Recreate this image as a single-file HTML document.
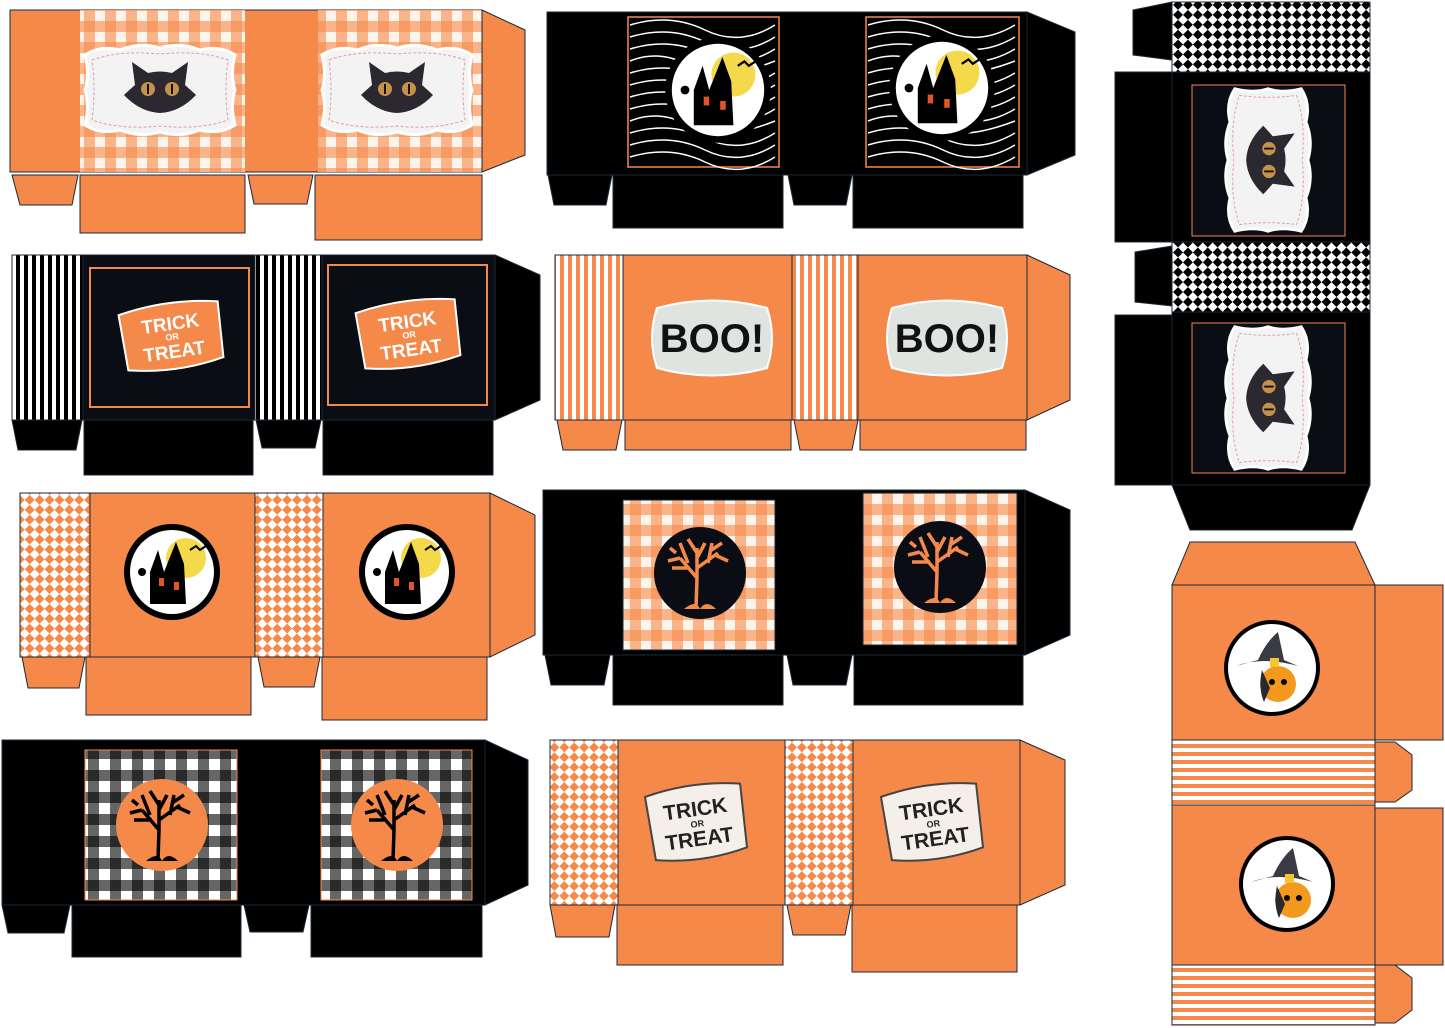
<!DOCTYPE html>
<html><head><meta charset="utf-8"><style>html,body{margin:0;padding:0;background:#fff}svg{display:block}</style></head><body>
<svg width="1445" height="1028" viewBox="0 0 1445 1028" xmlns="http://www.w3.org/2000/svg" font-family="Liberation Sans, sans-serif">
<defs>
<pattern id="ging" width="21" height="21" patternUnits="userSpaceOnUse">
<rect width="21" height="21" fill="#fff4ec"/><rect x="0" width="11" height="21" fill="#f5894a" opacity=".6"/><rect y="0" width="21" height="11" fill="#f5894a" opacity=".6"/></pattern>
<pattern id="gingbw" width="22" height="22" patternUnits="userSpaceOnUse">
<rect width="22" height="22" fill="#fff"/><rect width="11" height="22" fill="#000" opacity=".6"/><rect width="22" height="11" fill="#000" opacity=".6"/></pattern>
<pattern id="vsbw" width="8" height="8" patternUnits="userSpaceOnUse"><rect width="8" height="8" fill="#fff"/><rect width="4" height="8" fill="#000"/></pattern>
<pattern id="vso" width="8" height="8" patternUnits="userSpaceOnUse"><rect width="8" height="8" fill="#fff"/><rect width="4" height="8" fill="#f5894a"/></pattern>
<pattern id="hso" width="8" height="8" patternUnits="userSpaceOnUse"><rect width="8" height="8" fill="#fff"/><rect width="8" height="4" fill="#f5894a"/></pattern>
<pattern id="dia" width="14" height="14" patternUnits="userSpaceOnUse" patternTransform="rotate(45)"><rect width="14" height="14" fill="#fff"/><rect width="7" height="7" fill="#f5894a"/><rect x="7" y="7" width="7" height="7" fill="#f5894a"/></pattern>
<pattern id="harl" width="14" height="14" patternUnits="userSpaceOnUse" patternTransform="rotate(45)"><rect width="14" height="14" fill="#fff"/><rect width="7" height="7" fill="#000"/><rect x="7" y="7" width="7" height="7" fill="#000"/></pattern>
<g id="cat">
<path d="M-75,-35 Q-60,-45 -40,-40 Q-20,-48 0,-42 Q20,-48 40,-40 Q60,-45 75,-35 Q70,-15 75,0 Q70,15 75,35 Q60,45 40,40 Q20,48 0,42 Q-20,48 -40,40 Q-60,45 -75,35 Q-70,15 -75,0 Q-70,-15 -75,-35Z" fill="#f3f3f3" stroke="#fff" stroke-width="3"/>
<path d="M-68,-30 Q-40,-40 0,-36 Q40,-40 68,-30 Q64,0 68,30 Q40,40 0,36 Q-40,40 -68,30 Q-64,0 -68,-30Z" fill="none" stroke="#d9a0a8" stroke-dasharray="3 2"/>
<path d="M-25,-5 L-28,-28 L-12,-17 Q0,-20 12,-17 L28,-28 L25,-5 Q34,3 36,5 Q20,22 0,23 Q-20,22 -36,5 Q-34,3 -25,-5Z" fill="#2b2830"/>
<circle cx="-12" cy="-1" r="7" fill="#c8914a"/><circle cx="12" cy="-1" r="7" fill="#c8914a"/>
<rect x="-13" y="-6" width="2" height="10" fill="#111"/><rect x="11" y="-6" width="2" height="10" fill="#111"/></g>
<g id="house">
<circle r="48" fill="#000"/><circle r="42" fill="#fff"/><circle cx="14" cy="-14" r="20" fill="#f4d94a"/>
<path d="M-22,32 L-22,0 L-14,-22 L-8,0 L-4,-10 L4,-30 L12,-8 L14,32Z" fill="#000"/>
<rect x="-13" y="6" width="5" height="8" fill="#e2542a"/><rect x="2" y="10" width="5" height="8" fill="#e2542a"/>
<circle cx="-30" cy="0" r="4" fill="#000"/><path d="M18,-22 l6,-4 l4,4 l6,-4" stroke="#000" stroke-width="2" fill="none"/></g>
<g id="tree">
<path d="M-4,35 L-3,5 L-20,-15 M-3,5 L-3,-25 M-3,-5 L18,-20 M-10,-5 L-28,-5 M8,-10 L12,-30 M-12,-10 L-20,-30 M-3,-15 L5,-30 M15,-18 L28,-12 M-24,-20 L-30,-25 M-3,-20 L-12,-34 M10,-22 L22,-30 M-20,-15 L-32,-12" stroke="currentColor" stroke-width="3.5" fill="none"/>
<path d="M-16,36 Q-4,26 0,36 Q6,26 16,36Z" fill="currentColor"/></g>
<g id="witch">
<circle r="46" fill="#fff" stroke="#000" stroke-width="4"/>
<path d="M-36,-2 Q-10,-12 26,-2 L12,-8 L6,-36 Q-6,-26 -14,-8Z" fill="#3a3a44"/>
<circle cx="6" cy="16" r="18" fill="#f39a1e"/><circle cx="0" cy="14" r="3" fill="#000"/><circle cx="12" cy="14" r="3" fill="#000"/>
<path d="M-10,2 Q-14,20 -8,34 L-2,20Z" fill="#2b2830"/>
<rect x="-2" y="-10" width="9" height="9" fill="#f4c431"/></g>
</defs>
<g stroke="#1b2838" stroke-width="1">
<rect x="10" y="10" width="472" height="162" fill="#f5894a"/>
<rect x="80" y="10" width="165" height="162" fill="url(#ging)" stroke="none"/>
<rect x="318" y="10" width="164" height="162" fill="url(#ging)" stroke="none"/>
<path d="M482,10 L525,30 L525,155 L482,172Z" fill="#f5894a"/>
<path d="M12,175 L78,175 L72,205 L20,205Z" fill="#f5894a"/><rect x="80" y="175" width="165" height="58" fill="#f5894a"/>
<path d="M248,175 L313,175 L307,204 L254,204Z" fill="#f5894a"/><rect x="315" y="175" width="167" height="65" fill="#f5894a"/>
<rect x="547" y="12" width="480" height="163" fill="#000"/>
<path d="M1027,12 L1075,32 L1075,155 L1027,175Z" fill="#000"/>
<path d="M548,175 L612,175 L606,205 L554,205Z" fill="#000"/><rect x="613" y="175" width="170" height="53" fill="#000"/>
<path d="M788,175 L852,175 L846,205 L794,205Z" fill="#000"/><rect x="853" y="175" width="170" height="53" fill="#000"/>
<rect x="12" y="255" width="483" height="165" fill="#0a0d14"/>
<rect x="12" y="255" width="71" height="165" fill="url(#vsbw)"/><rect x="255" y="255" width="67" height="165" fill="url(#vsbw)"/>
<path d="M495,255 L540,275 L540,400 L495,420Z" fill="#000"/>
<path d="M12,420 L82,420 L76,450 L18,450Z" fill="#000"/><rect x="84" y="420" width="169" height="55" fill="#000"/>
<path d="M256,420 L321,420 L315,448 L262,448Z" fill="#000"/><rect x="323" y="420" width="170" height="55" fill="#000"/>
<rect x="555" y="255" width="472" height="165" fill="#f5894a"/>
<rect x="555" y="255" width="68" height="165" fill="url(#vso)"/><rect x="792" y="255" width="66" height="165" fill="url(#vso)"/>
<path d="M1027,255 L1070,275 L1070,400 L1027,420Z" fill="#f5894a"/>
<path d="M557,420 L622,420 L616,450 L563,450Z" fill="#f5894a"/><rect x="625" y="420" width="166" height="30" fill="#f5894a"/>
<path d="M794,420 L858,420 L852,450 L800,450Z" fill="#f5894a"/><rect x="860" y="420" width="166" height="30" fill="#f5894a"/>
<rect x="20" y="493" width="470" height="164" fill="#f5894a"/>
<rect x="20" y="493" width="70" height="164" fill="url(#dia)"/><rect x="255" y="493" width="68" height="164" fill="url(#dia)"/>
<path d="M490,493 L535,515 L535,635 L490,657Z" fill="#f5894a"/>
<path d="M22,657 L85,657 L79,688 L28,688Z" fill="#f5894a"/><rect x="86" y="657" width="165" height="58" fill="#f5894a"/>
<path d="M258,657 L320,657 L314,687 L264,687Z" fill="#f5894a"/><rect x="322" y="657" width="165" height="63" fill="#f5894a"/>
<rect x="543" y="490" width="482" height="165" fill="#000"/>
<rect x="623" y="500" width="152" height="150" fill="url(#ging)"/><rect x="863" y="493" width="154" height="152" fill="url(#ging)"/>
<path d="M1025,490 L1070,510 L1070,635 L1025,655Z" fill="#000"/>
<path d="M545,655 L610,655 L604,685 L551,685Z" fill="#000"/><rect x="613" y="655" width="170" height="50" fill="#000"/>
<path d="M787,655 L852,655 L846,685 L793,685Z" fill="#000"/><rect x="854" y="655" width="169" height="50" fill="#000"/>
<rect x="2" y="740" width="483" height="165" fill="#000"/>
<rect x="85" y="750" width="152" height="150" fill="url(#gingbw)" stroke="#f5894a"/><rect x="321" y="750" width="151" height="150" fill="url(#gingbw)" stroke="#f5894a"/>
<path d="M485,740 L528,760 L528,885 L485,905Z" fill="#000"/>
<path d="M2,905 L70,905 L64,933 L8,933Z" fill="#000"/><rect x="72" y="905" width="169" height="52" fill="#000"/>
<path d="M244,905 L309,905 L303,932 L250,932Z" fill="#000"/><rect x="311" y="905" width="171" height="52" fill="#000"/>
<rect x="550" y="740" width="470" height="165" fill="#f5894a"/>
<rect x="550" y="740" width="68" height="165" fill="url(#dia)"/><rect x="785" y="740" width="68" height="165" fill="url(#dia)"/>
<path d="M1020,740 L1065,760 L1065,885 L1020,905Z" fill="#f5894a"/>
<path d="M550,905 L615,905 L609,937 L556,937Z" fill="#f5894a"/><rect x="617" y="905" width="166" height="60" fill="#f5894a"/>
<path d="M787,905 L851,905 L845,935 L793,935Z" fill="#f5894a"/><rect x="852" y="905" width="165" height="67" fill="#f5894a"/>
<rect x="1172" y="2" width="198" height="70" fill="url(#harl)"/>
<path d="M1133,10 L1172,2 L1172,60 L1133,55Z" fill="#000"/>
<rect x="1115" y="72" width="57" height="170" fill="#000"/>
<rect x="1172" y="72" width="198" height="170" fill="#000"/>
<rect x="1172" y="242" width="198" height="70" fill="url(#harl)"/>
<path d="M1135,252 L1172,246 L1172,306 L1135,302Z" fill="#000"/>
<rect x="1115" y="315" width="57" height="170" fill="#000"/>
<rect x="1172" y="312" width="198" height="173" fill="#000"/>
<path d="M1172,485 L1370,485 L1352,530 L1190,530Z" fill="#000"/>
<path d="M1190,542 L1355,542 L1375,585 L1172,585Z" fill="#f5894a"/>
<rect x="1172" y="585" width="203" height="155" fill="#f5894a"/>
<rect x="1375" y="585" width="68" height="155" fill="#f5894a"/>
<rect x="1172" y="740" width="203" height="65" fill="url(#hso)"/>
<path d="M1375,742 L1395,742 L1412,755 L1412,790 L1395,802 L1375,802Z" fill="#f5894a"/>
<rect x="1172" y="805" width="203" height="160" fill="#f5894a"/>
<rect x="1375" y="808" width="68" height="157" fill="#f5894a"/>
<rect x="1172" y="965" width="203" height="60" fill="url(#hso)"/>
<path d="M1375,965 L1395,965 L1412,978 L1412,1010 L1395,1023 L1375,1023Z" fill="#f5894a"/>
</g>
<use href="#cat" x="160" y="90"/><use href="#cat" x="397" y="90"/>
<g stroke="#fff" stroke-width="1.5" fill="none">
<rect x="628" y="17" width="151" height="150" fill="#000" stroke="#f5894a"/>
<rect x="866" y="17" width="153" height="150" fill="#000" stroke="#f5894a"/>
<path d="M630,25 q40,-12 75,5 t70,-5 M630,37 q40,-12 75,5 t70,-5 M630,49 q40,-12 75,5 t70,-5 M630,61 q30,-12 60,5 t85,-5 M630,73 q40,-12 75,5 t70,-5 M630,85 q40,-12 75,5 t70,-5 M630,97 q40,-12 75,5 t70,-5 M630,109 q40,-12 75,5 t70,-5 M630,121 q30,-12 60,5 t85,-5 M630,133 q40,-12 75,5 t70,-5 M630,145 q40,-12 75,5 t70,-5 M630,157 q40,-12 75,5 t70,-5"/>
<path d="M868,25 q40,-12 75,5 t72,-5 M868,37 q40,-12 75,5 t72,-5 M868,49 q40,-12 75,5 t72,-5 M868,61 q30,-12 60,5 t87,-5 M868,73 q40,-12 75,5 t72,-5 M868,85 q40,-12 75,5 t72,-5 M868,97 q40,-12 75,5 t72,-5 M868,109 q40,-12 75,5 t72,-5 M868,121 q30,-12 60,5 t87,-5 M868,133 q40,-12 75,5 t72,-5 M868,145 q40,-12 75,5 t72,-5 M868,157 q40,-12 75,5 t72,-5"/>
</g>
<g transform="translate(718,90) scale(1.1)"><use href="#house"/></g>
<g transform="translate(942,88) scale(1.1)"><use href="#house"/></g>
<rect x="90" y="268" width="159" height="139" fill="#0a0d14" stroke="#f5894a" stroke-width="2"/>
<rect x="328" y="265" width="159" height="140" fill="#0a0d14" stroke="#f5894a" stroke-width="2"/>
<g font-weight="bold" fill="#fff" text-anchor="middle">
<g transform="translate(172,336) rotate(-8)"><path d="M-50,-28 Q0,-38 50,-28 L48,28 Q0,38 -48,28Z" fill="#f5894a" stroke="#fff" stroke-width="2"/><text y="-6" font-size="19">TRICK</text><text y="4" font-size="9">OR</text><text y="22" font-size="19">TREAT</text></g>
<g transform="translate(409,334) rotate(-8)"><path d="M-50,-28 Q0,-38 50,-28 L48,28 Q0,38 -48,28Z" fill="#f5894a" stroke="#fff" stroke-width="2"/><text y="-6" font-size="19">TRICK</text><text y="4" font-size="9">OR</text><text y="22" font-size="19">TREAT</text></g>
</g>
<g text-anchor="middle" font-weight="bold" font-size="40">
<g transform="translate(712,338)"><path d="M-55,-30 Q0,-45 55,-30 Q65,0 55,30 Q0,45 -55,30 Q-65,0 -55,-30Z" fill="#dfe4e0" stroke="#fff" stroke-width="2"/><text y="14" fill="#111">BOO!</text></g>
<g transform="translate(947,338)"><path d="M-55,-30 Q0,-45 55,-30 Q65,0 55,30 Q0,45 -55,30 Q-65,0 -55,-30Z" fill="#dfe4e0" stroke="#fff" stroke-width="2"/><text y="14" fill="#111">BOO!</text></g>
</g>
<use href="#house" x="172" y="572"/><use href="#house" x="407" y="572"/>
<circle cx="700" cy="573" r="46" fill="#0a0d14"/><use href="#tree" x="700" y="573" style="color:#f5894a"/>
<circle cx="940" cy="567" r="46" fill="#0a0d14"/><use href="#tree" x="940" y="567" style="color:#f5894a"/>
<circle cx="162" cy="825" r="46" fill="#f5894a"/><use href="#tree" x="162" y="825" style="color:#000"/>
<circle cx="397" cy="825" r="46" fill="#f5894a"/><use href="#tree" x="397" y="825" style="color:#000"/>
<g font-weight="bold" fill="#222" text-anchor="middle">
<g transform="translate(697,822) rotate(-8)"><path d="M-48,-32 Q0,-42 48,-32 L46,32 Q0,42 -46,32Z" fill="#f4efe9" stroke="#444" stroke-width="2"/><text y="-6" font-size="21">TRICK</text><text y="5" font-size="9">OR</text><text y="24" font-size="21">TREAT</text></g>
<g transform="translate(933,822) rotate(-8)"><path d="M-48,-32 Q0,-42 48,-32 L46,32 Q0,42 -46,32Z" fill="#f4efe9" stroke="#444" stroke-width="2"/><text y="-6" font-size="21">TRICK</text><text y="5" font-size="9">OR</text><text y="24" font-size="21">TREAT</text></g>
</g>
<rect x="1192" y="85" width="153" height="151" fill="#0a0d14" stroke="#f5894a"/>
<rect x="1192" y="323" width="153" height="150" fill="#0a0d14" stroke="#f5894a"/>
<g transform="translate(1268,160) rotate(90) scale(0.95)"><use href="#cat"/></g>
<g transform="translate(1268,398) rotate(90) scale(0.95)"><use href="#cat"/></g>
<use href="#witch" x="1272" y="668"/><use href="#witch" x="1287" y="884"/>
</svg>
</body></html>
